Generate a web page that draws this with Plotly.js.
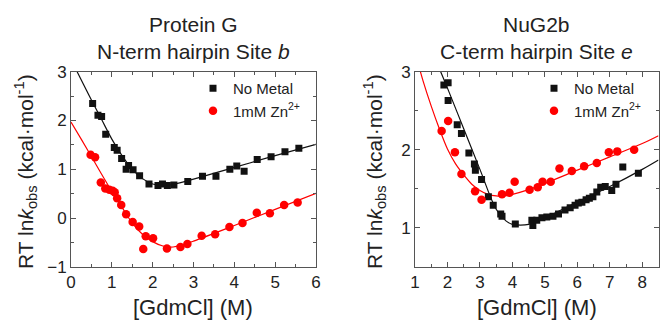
<!DOCTYPE html>
<html>
<head>
<meta charset="utf-8">
<script src="https://cdn.plot.ly/plotly-3.0.1.min.js"></script>
<style>html,body{margin:0;padding:0;background:#fff;}#chart{width:660px;height:322px;}</style>
</head>
<body>
<div id="chart"></div>
<script>
// ---- Left panel: Protein G, N-term hairpin Site b ----
const pgNoMetalX = [0.53,0.66,0.75,0.85,1.06,1.13,1.24,1.35,1.41,1.52,1.68,1.91,2.13,2.24,2.36,2.52,2.86,3.22,3.55,3.89,4.06,4.24,4.56,4.90,5.24,5.58];
const pgNoMetalY = [2.35,2.11,2.08,1.72,1.45,1.39,1.22,1.00,1.08,0.99,0.87,0.70,0.67,0.70,0.67,0.68,0.75,0.86,0.86,1.00,1.07,0.96,1.20,1.26,1.36,1.43];
const pgZnX = [0.48,0.59,0.73,0.84,0.94,1.02,1.07,1.13,1.23,1.35,1.51,1.67,1.83,2.01,1.77,2.35,2.68,2.85,3.20,3.53,3.88,4.20,4.55,4.87,5.22,5.55];
const pgZnY = [1.30,1.25,0.73,0.61,0.58,0.56,0.53,0.41,0.27,0.08,-0.08,-0.17,-0.37,-0.41,-0.63,-0.62,-0.59,-0.53,-0.36,-0.33,-0.18,-0.10,0.11,0.10,0.27,0.32];
const pgFitNoMetalX = [0,0.5,0.75,1.0,1.25,1.5,1.75,2.0,2.25,2.5,3,4,5,6];
const pgFitNoMetalY = [3.25,2.42,2.02,1.62,1.28,1.00,0.81,0.70,0.67,0.69,0.80,1.04,1.28,1.51];
const pgFitZnX = [0,0.25,0.5,0.75,1.0,1.25,1.5,1.75,2.0,2.25,2.5,2.75,3,4,5,6];
const pgFitZnY = [1.97,1.62,1.26,0.90,0.55,0.22,-0.10,-0.33,-0.48,-0.57,-0.59,-0.54,-0.47,-0.15,0.18,0.51];

// ---- Right panel: NuG2b, C-term hairpin Site e ----
const nuNoMetalX = [1.89,2.02,2.02,2.30,2.43,2.66,2.83,2.86,3.05,3.26,3.41,3.64,3.68,4.09,4.60,4.63,4.75,4.91,5.06,5.25,5.42,5.62,5.78,5.93,6.03,6.14,6.27,6.37,6.48,6.60,6.72,6.86,7.06,7.19,7.40,7.88];
const nuNoMetalY = [2.83,2.86,2.63,2.32,2.21,1.96,1.82,1.74,1.62,1.40,1.29,1.18,1.15,1.05,1.10,1.03,1.10,1.13,1.14,1.15,1.18,1.23,1.26,1.29,1.32,1.33,1.36,1.38,1.40,1.46,1.52,1.53,1.48,1.56,1.78,1.70];
const nuZnX = [1.82,2.02,2.23,2.43,2.85,3.05,3.68,3.91,4.07,4.53,4.78,4.93,5.18,5.45,5.83,6.21,6.60,6.97,7.23,7.75];
const nuZnY = [2.24,2.37,1.97,1.69,1.47,1.36,1.43,1.45,1.59,1.49,1.52,1.59,1.59,1.76,1.73,1.79,1.83,1.97,1.98,2.00];
const nuFitNoMetalX = [1.75,2,2.5,3,3.5,3.8,4.0,4.25,4.5,5,6,7,8,8.5];
const nuFitNoMetalY = [3.04,2.79,2.27,1.75,1.24,1.09,1.045,1.035,1.045,1.13,1.33,1.53,1.75,1.87];
const nuFitZnX = [1.1,1.25,1.5,1.75,2.0,2.25,2.5,2.75,3.0,3.25,3.5,3.75,4.0,4.5,5,6,7,8,8.5];
const nuFitZnY = [3.1,2.88,2.56,2.27,2.01,1.82,1.68,1.56,1.48,1.43,1.41,1.41,1.43,1.49,1.57,1.74,1.91,2.08,2.18];

const legendNames = ['No Metal', '1mM Zn<sup>2+</sup>'];
const panelTitles = [['Protein G', 'N-term hairpin Site <i>b</i>'], ['NuG2b', 'C-term hairpin Site <i>e</i>']];
const yTitle = 'RT ln<i>k</i><sub>obs</sub> (kcal·mol<sup>-1</sup>)';
const xTitle = '[GdmCl] (M)';

const FONT = 'Arial, "Liberation Sans", sans-serif';
const BLACK = '#111111';
const RED = '#ff0000';
const W = 660, H = 322;

const sq = {symbol: 'square', size: 7, color: BLACK};
const ci = {symbol: 'circle', size: 8.5, color: RED};

const traces = [
  {x: pgFitNoMetalX, y: pgFitNoMetalY, mode: 'lines', line: {color: BLACK, width: 1.2, shape: 'spline'}, showlegend: false, xaxis: 'x', yaxis: 'y', hoverinfo: 'skip'},
  {x: pgFitZnX, y: pgFitZnY, mode: 'lines', line: {color: RED, width: 1.2, shape: 'spline'}, showlegend: false, xaxis: 'x', yaxis: 'y', hoverinfo: 'skip'},
  {x: pgNoMetalX, y: pgNoMetalY, mode: 'markers', marker: sq, name: legendNames[0], legend: 'legend', xaxis: 'x', yaxis: 'y'},
  {x: pgZnX, y: pgZnY, mode: 'markers', marker: ci, name: legendNames[1], legend: 'legend', xaxis: 'x', yaxis: 'y'},
  {x: nuFitNoMetalX, y: nuFitNoMetalY, mode: 'lines', line: {color: BLACK, width: 1.2, shape: 'spline'}, showlegend: false, xaxis: 'x2', yaxis: 'y2', hoverinfo: 'skip'},
  {x: nuFitZnX, y: nuFitZnY, mode: 'lines', line: {color: RED, width: 1.2, shape: 'spline'}, showlegend: false, xaxis: 'x2', yaxis: 'y2', hoverinfo: 'skip'},
  {x: nuNoMetalX, y: nuNoMetalY, mode: 'markers', marker: sq, name: legendNames[0], legend: 'legend2', xaxis: 'x2', yaxis: 'y2'},
  {x: nuZnX, y: nuZnY, mode: 'markers', marker: ci, name: legendNames[1], legend: 'legend2', xaxis: 'x2', yaxis: 'y2'}
];

function ax(extra) {
  return Object.assign({
    showline: true, linecolor: '#555', linewidth: 1, mirror: 'allticks',
    ticks: 'inside', ticklen: 5, tickcolor: '#555', tickwidth: 1,
    showgrid: false, zeroline: false, automargin: false,
    tickfont: {family: FONT, size: 17, color: '#222'},
    minor: {ticks: 'inside', ticklen: 3, dtick: 0.5, tickcolor: '#555', showgrid: false}
  }, extra);
}

// plot areas in pixels
const L = {x0: 71, x1: 316}, R = {x0: 415, x1: 658.5};
const yTop = 71.7, yBot = 267;
const px = v => v / W, py = v => (H - v) / H;

const ann = [];
[[L, panelTitles[0]], [R, panelTitles[1]]].forEach(([p, t]) => {
  const cx = px((p.x0 + p.x1) / 2);
  ann.push({xref: 'paper', yref: 'paper', x: cx, y: py(24), text: t[0], showarrow: false, xanchor: 'center', yanchor: 'middle', font: {family: FONT, size: 21, color: '#222'}});
  ann.push({xref: 'paper', yref: 'paper', x: cx, y: py(51), text: t[1], showarrow: false, xanchor: 'center', yanchor: 'middle', font: {family: FONT, size: 21, color: '#222'}});
  ann.push({xref: 'paper', yref: 'paper', x: cx, y: py(307), text: xTitle, showarrow: false, xanchor: 'center', yanchor: 'middle', font: {family: FONT, size: 22, color: '#222'}});
});
ann.push({xref: 'paper', yref: 'paper', x: px(25), y: py(172), text: yTitle, textangle: -90, showarrow: false, xanchor: 'center', yanchor: 'middle', font: {family: FONT, size: 21, color: '#222'}});
ann.push({xref: 'paper', yref: 'paper', x: px(374), y: py(172), text: yTitle, textangle: -90, showarrow: false, xanchor: 'center', yanchor: 'middle', font: {family: FONT, size: 21, color: '#222'}});

const legendStyle = {bgcolor: 'rgba(0,0,0,0)', borderwidth: 0, font: {family: FONT, size: 15, color: '#222'}, xanchor: 'left', yanchor: 'top', tracegroupgap: 0};

const layout = {
  width: W, height: H,
  margin: {l: 0, r: 0, t: 0, b: 0},
  paper_bgcolor: '#fff', plot_bgcolor: '#fff',
  font: {family: FONT, color: '#222'},
  xaxis: ax({domain: [px(L.x0), px(L.x1)], range: [0, 6], dtick: 1, tick0: 0, anchor: 'y'}),
  yaxis: ax({domain: [py(yBot), py(yTop)], range: [-1, 3], dtick: 1, tick0: 0, anchor: 'x'}),
  xaxis2: ax({domain: [px(R.x0), px(R.x1)], range: [1, 8.5], dtick: 1, tick0: 0, anchor: 'y2'}),
  yaxis2: ax({domain: [py(yBot), py(yTop)], range: [0.5, 3], dtick: 1, tick0: 0, anchor: 'x2'}),
  legend: Object.assign({x: px(193), y: py(72)}, legendStyle),
  legend2: Object.assign({x: px(534), y: py(72)}, legendStyle),
  annotations: ann,
  showlegend: true
};

Plotly.newPlot('chart', traces, layout, {displayModeBar: false, staticPlot: true});
</script>
</body>
</html>
